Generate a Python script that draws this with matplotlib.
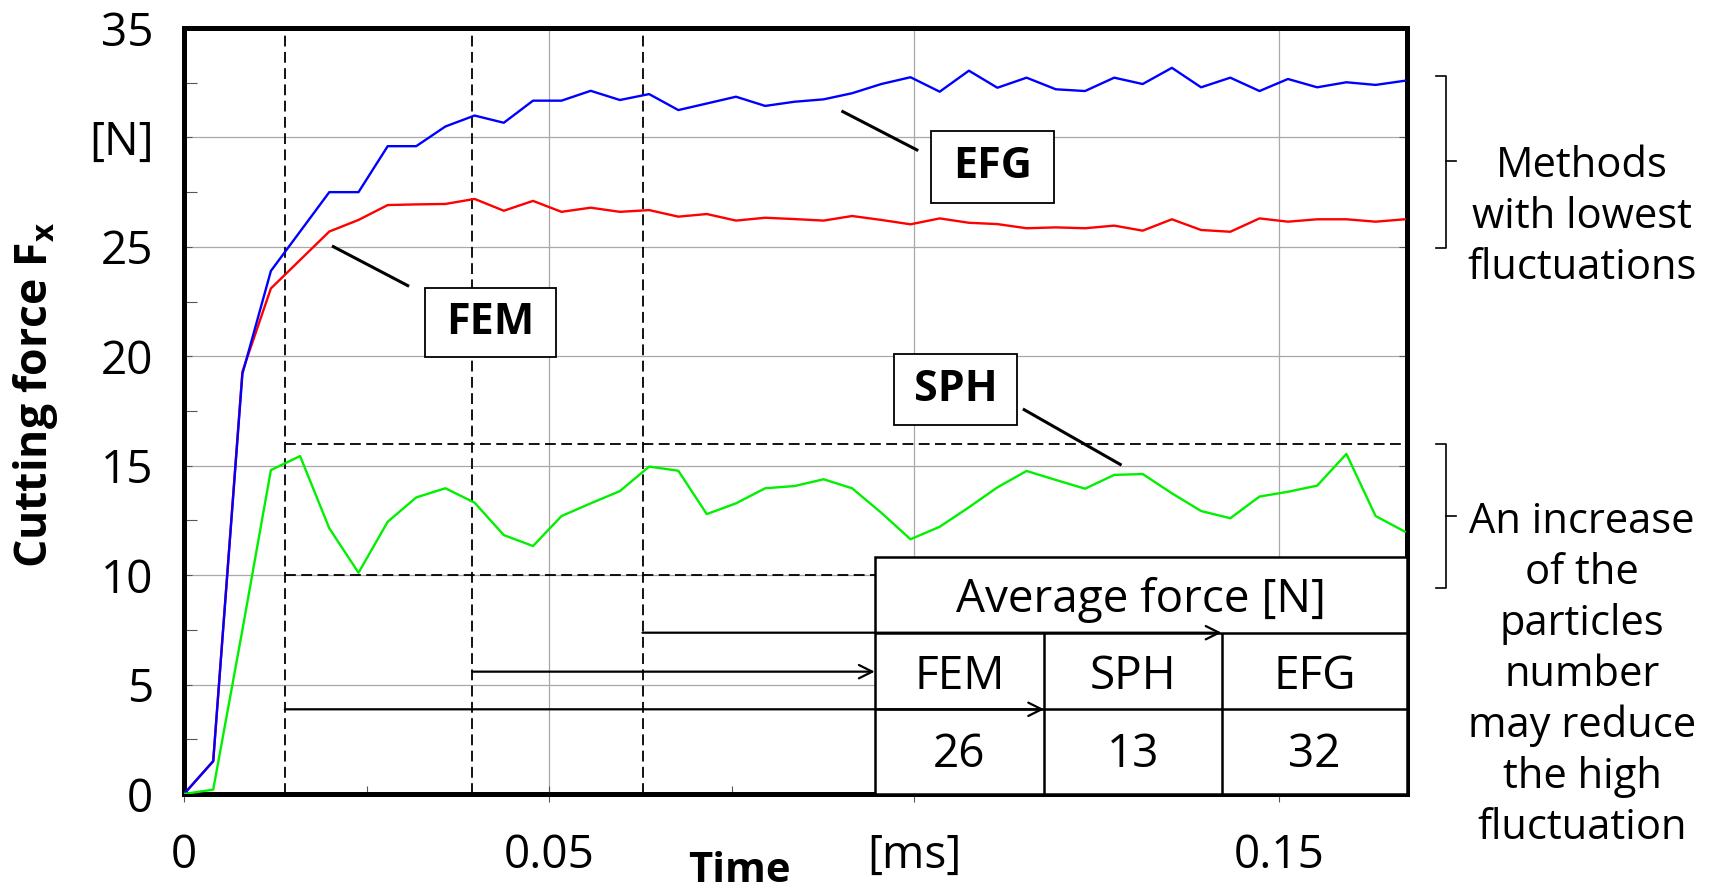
import numpy as np
import matplotlib.pyplot as plt
from matplotlib.patches import Rectangle
from matplotlib.lines import Line2D

plt.rcParams['font.family'] = ['Open Sans', 'DejaVu Sans']
plt.rcParams['mathtext.fontset'] = 'custom'
plt.rcParams['mathtext.rm'] = 'Open Sans'
plt.rcParams['mathtext.bf'] = 'Open Sans:bold'

# time [ms]
time = [0.0, 0.004, 0.008, 0.0119, 0.0159, 0.0199, 0.0239, 0.0279, 0.0318, 0.0358,
        0.0398, 0.0438, 0.0478, 0.0517, 0.0557, 0.0597, 0.0637, 0.0677, 0.0716, 0.0756,
        0.0796, 0.0836, 0.0876, 0.0915, 0.0955, 0.0995, 0.1035, 0.1075, 0.1114, 0.1154,
        0.1194, 0.1234, 0.1274, 0.1313, 0.1353, 0.1393, 0.1433, 0.1473, 0.1512, 0.1552,
        0.1592, 0.1632, 0.1672]

# cutting force [N]
fem = [0, 1.5, 19.3, 23.1, 24.4, 25.7, 26.23, 26.91, 26.94, 26.96,
       27.19, 26.65, 27.1, 26.6, 26.79, 26.6, 26.68, 26.38, 26.5, 26.2,
       26.33, 26.27, 26.2, 26.41, 26.23, 26.03, 26.3, 26.1, 26.04, 25.85,
       25.89, 25.85, 25.97, 25.74, 26.26, 25.77, 25.69, 26.3, 26.15, 26.26,
       26.26, 26.15, 26.26]

sph = [0, 0.2, 7.5, 14.8, 15.44, 12.14, 10.11, 12.44, 13.55, 13.97,
       13.31, 11.83, 11.33, 12.7, 13.28, 13.84, 14.96, 14.77, 12.79, 13.28,
       13.97, 14.07, 14.38, 13.97, 12.85, 11.64, 12.21, 13.1, 14.01, 14.76,
       14.35, 13.95, 14.58, 14.62, 13.74, 12.93, 12.6, 13.59, 13.81, 14.09,
       15.54, 12.7, 11.99]

efg = [0, 1.5, 19.2, 23.9, 25.7, 27.5, 27.5, 29.6, 29.6, 30.5,
       31.0, 30.67, 31.68, 31.68, 32.13, 31.71, 31.98, 31.25, 31.55, 31.86,
       31.44, 31.63, 31.74, 32.02, 32.44, 32.75, 32.09, 33.05, 32.27, 32.73,
       32.2, 32.12, 32.73, 32.44, 33.18, 32.29, 32.73, 32.12, 32.67, 32.29,
       32.52, 32.4, 32.59]

methods = ['FEM', 'SPH', 'EFG']
avg_force = ['26', '13', '32']

xticks = [0, 0.05, 0.1, 0.15]
xtick_labels = ['0', '0.05', '[ms]', '0.15']
yticks = [0, 5, 10, 15, 20, 25, 30, 35]
ytick_labels = ['0', '5', '10', '15', '20', '25', '[N]', '35']

XMAX = 0.1675
W, H = 1717, 891

fig = plt.figure(figsize=(W / 100, H / 100), dpi=100)
ax = fig.add_axes([184 / W, 1 - 794 / H, (1407 - 184) / W, (794 - 28) / H])

ax.plot(time, fem, color='#ff0000', lw=1.7, zorder=3)
ax.plot(time, efg, color='#0000ff', lw=1.7, zorder=3)
ax.plot(time, sph, color='#00f000', lw=1.7, zorder=3)

ax.set_xlim(0, XMAX)
ax.set_ylim(0, 35)
ax.grid(True, which='major', color='#a8a8a8', lw=0.9)
ax.set_axisbelow(True)

# dashed markers
dash = (0, (6, 3))
marks = [0.0138, 0.0395, 0.0628]
ax.vlines(marks, 0, 35, colors='k', linestyles=[dash], lw=1.3, zorder=2)
ax.hlines(16, marks[0], XMAX, colors='k', linestyles=[dash], lw=1.3, zorder=2)
ax.hlines(10, marks[0], 0.0946, colors='k', linestyles=[dash], lw=1.3, zorder=2)

# table with average forces
tx = [0.0946, 0.1178, 0.1421, XMAX]
ty = [0, 3.87, 7.37, 10.84]
ax.add_patch(Rectangle((tx[0], 0), tx[3] - tx[0], ty[3], facecolor='white',
                       edgecolor='k', lw=1.8, zorder=4, clip_on=False))
ax.hlines(ty[1:3], tx[0], tx[3], colors='k', lw=1.8, zorder=5)
ax.vlines(tx[1:3], 0, ty[2], colors='k', lw=1.8, zorder=5)
ax.text((tx[0] + tx[3]) / 2, 8.85, 'Average force [N]', fontsize=33,
        ha='center', va='center', zorder=6)
for i in range(3):
    cx = (tx[i] + tx[i + 1]) / 2
    ax.text(cx, 5.35, methods[i], fontsize=33, ha='center', va='center', zorder=6)
    ax.text(cx, 1.78, avg_force[i], fontsize=33, ha='center', va='center', zorder=6)

# arrows
for x0, x1, y in [(marks[0], tx[1], ty[1]), (marks[1], tx[0], 5.59), (marks[2], tx[2], ty[2])]:
    ax.annotate('', xy=(x1, y), xytext=(x0, y), zorder=7,
                arrowprops=dict(arrowstyle='->', lw=1.6, color='k',
                                shrinkA=0, shrinkB=0, mutation_scale=24))

# method labels
for name, cx, cy, bw, bh, lx, ly in [
        ('EFG', 0.11075, 28.65, 0.01685, 3.29, [0.09023, 0.10037], [31.18, 29.43]),
        ('FEM', 0.04199, 21.54, 0.01795, 3.15, [0.02045, 0.03064], [25.01, 23.23]),
        ('SPH', 0.10568, 18.48, 0.01685, 3.24, [0.11507, 0.12822], [17.56, 15.06])]:
    ax.add_patch(Rectangle((cx - bw / 2, cy - bh / 2), bw, bh, facecolor='white',
                           edgecolor='k', lw=1.3, zorder=6))
    ax.text(cx, cy, name, fontsize=31, fontweight='bold', ha='center', va='center', zorder=7)
    ax.plot(lx, ly, color='k', lw=2.2, zorder=6)

# ticks
ax.set_xticks(xticks)
ax.set_xticklabels(xtick_labels)
ax.set_xticks([0.025, 0.075, 0.125], minor=True)
ax.set_yticks(yticks)
ax.set_yticklabels(ytick_labels)
ax.set_yticks([2.5, 7.5, 12.5, 17.5, 22.5, 27.5, 32.5], minor=True)
ax.tick_params(axis='x', which='major', direction='inout', length=11.5, width=0.8,
               color='#555555', labelsize=33, pad=22)
ax.tick_params(axis='x', which='minor', direction='in', length=6, width=0.8, color='#555555')
ax.tick_params(axis='y', which='major', direction='in', length=6, width=0.8,
               color='#555555', labelsize=33, pad=22, right=True)
ax.tick_params(axis='y', which='minor', direction='in', length=9.5, width=0.8, color='#555555')
for s in ax.spines.values():
    s.set_linewidth(3.6)

fig.text(739 / W, 1 - 872 / H, 'Time', fontsize=30, fontweight='bold', ha='center', va='center')
fig.text(36 / W, 1 - 395 / H, r'Cutting force F$_\mathbf{x}$', fontsize=32, fontweight='bold',
         rotation=90, ha='center', va='center')

# side notes with brackets
fig.text(1582 / W, 1 - 217 / H, 'Methods\nwith lowest\nfluctuations', fontsize=30,
         ha='center', va='center', linespacing=1.28)
fig.text(1582 / W, 1 - 675 / H,
         'An increase\nof the\nparticles\nnumber\nmay reduce\nthe high\nfluctuation',
         fontsize=30, ha='center', va='center', linespacing=1.28)
for top, mid, bot in [(76, 161, 248), (444, 516, 588)]:
    fig.add_artist(Line2D(np.array([1436, 1446, 1446, 1436]) / W,
                          1 - np.array([top, top, bot, bot]) / H, color='k', lw=1.2))
    fig.add_artist(Line2D(np.array([1446, 1456]) / W, 1 - np.array([mid, mid]) / H,
                          color='k', lw=1.2))

fig.savefig('out.png', dpi=100)
